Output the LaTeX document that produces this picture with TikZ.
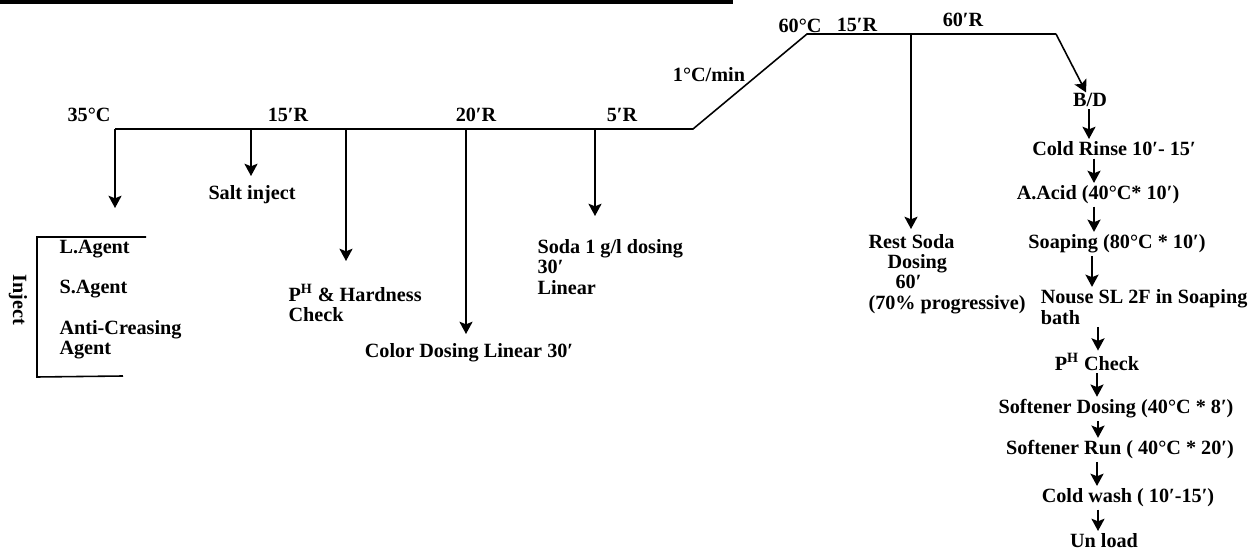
\documentclass[tikz,border=0pt]{standalone}
\usepackage{fontspec}
\setmainfont{Liberation Serif}
\usetikzlibrary{arrows.meta,positioning}

\begin{document}
\begin{tikzpicture}[x=0.02cm,y=-0.02cm,line width=0.9pt,
  lbl/.style={font=\bfseries\fontsize{11.5}{11.5}\selectfont,inner sep=1pt},
  txt/.style={lbl,align=left,anchor=west},
  step2/.style={lbl,inner sep=0pt},
  flow/.style={-{Stealth[width=7.5pt,length=7pt,inset=1.5pt]},line width=0.9pt}]
  \useasboundingbox (0,0) rectangle (1258,550);
  \fill (0,0) rectangle (733,4.5);

  % temperature profile
  \coordinate (start) at (115,129);
  \coordinate (ramp) at (693,129);
  \coordinate (hold) at (807,34);
  \coordinate (drain) at (1056,34);
  \draw (start) -- (ramp) -- (hold) -- (drain);

  \node[lbl] (t35) at (89,115) {35°C};
  \node[lbl] (r15) at (288,115) {15′R};
  \node[lbl] (r20) at (476,115) {20′R};
  \node[lbl] (r5) at (622,115) {5′R};
  \node[lbl] (rate) at (709,75) {1°C/min};
  \node[lbl] (t60) at (800,26) {60°C};
  \node[lbl] (s15) at (857,25) {15′R};
  \node[lbl] (s60) at (963,20) {60′R};

  % drops from the profile
  \foreach \n/\x/\e in {a/115/208, b/251/176, c/346/261, d/466/334, e/595/216}{
    \coordinate (top\n) at (\x,129);
    \coordinate (end\n) at (\x,\e);
    \draw[flow] (top\n) -- (end\n);
  }
  \coordinate (topf) at (911,34);
  \coordinate (endf) at (911,229);
  \draw[flow] (topf) -- (endf);

  % inject bracket
  \draw (146,237) -- (37,237) -- (37,377) -- (123,376);
  \node[lbl,rotate=-90] (inject) at (18,300) {Inject};
  \node[txt] (lag) at (57,249) {L.Agent};
  \node[txt] (sag) at (57,289) {S.Agent};
  \node[txt] (acag) at (57,340) {Anti-Creasing\\Agent};

  \node[lbl] (salt) at (252,195) {Salt inject};
  \node[txt] (ph) at (286,303) {P\textsuperscript{H} \& Hardness\\Check};
  \node[lbl] (color) at (469,353) {Color Dosing Linear 30′};
  \node[txt] (soda) at (535,267) {Soda 1 g/l dosing\\30′\\Linear};
  \node[lbl,align=left,anchor=north west] (rest) at (866,232)
    {Rest Soda\\\hspace*{0.38cm}Dosing\\\hspace*{0.54cm}60′\\(70\% progressive)};

  % after-treatment
  \node[step2] (bd) at (1090,100) {B/D};
  \node[step2] (rinse) at (1114,149) {Cold Rinse 10′- 15′};
  \node[step2] (acid) at (1098,195) {A.Acid (40°C* 10′)};
  \node[step2] (soap) at (1117,244) {Soaping (80°C * 10′)};
  \node[step2,align=left,anchor=west] (nouse) at (1040,307) {Nouse SL 2F in Soaping\\bath};
  \node[step2] (phc) at (1097,362) {P\textsuperscript{H} Check};
  \node[step2] (sdose) at (1116,409) {Softener Dosing (40°C * 8′)};
  \node[step2] (srun) at (1120,450) {Softener Run ( 40°C * 20′)};
  \node[step2] (cwash) at (1128,498) {Cold wash ( 10′-15′)};
  \node[step2] (unload) at (1104,541) {Un load};

  \draw[flow] (drain) -- (bd);
  \foreach \a/\b/\x in {bd/rinse/1089, rinse/acid/1094, acid/soap/1094,
      soap/nouse/1092, nouse/phc/1098, phc/sdose/1097, sdose/srun/1098,
      srun/cwash/1097, cwash/unload/1098}{
    \draw[flow,shorten <=1pt,shorten >=1.2pt] (\x,0 |- \a.south) -- (\x,0 |- \b.north);
  }
\end{tikzpicture}
\end{document}
